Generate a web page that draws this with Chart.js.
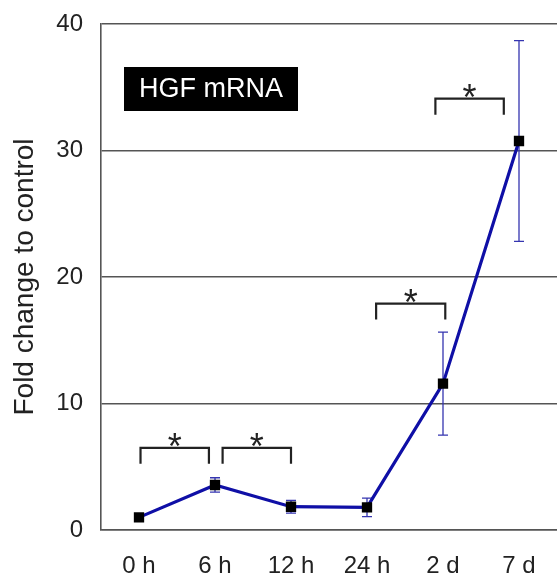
<!DOCTYPE html>
<html>
<head>
<meta charset="utf-8">
<script src="https://cdn.jsdelivr.net/npm/chart.js@4.4.1/dist/chart.umd.min.js"></script>
<style>
  html, body { margin: 0; padding: 0; background: #fff; }
  #wrap { width: 557px; height: 581px; }
</style>
</head>
<body>
<div id="wrap"><canvas id="hgfChart" width="557" height="581"></canvas></div>
<script>
// values
const timeLabels = ["0 h", "6 h", "12 h", "24 h", "2 d", "7 d"];
const foldChange = [1.0, 3.56, 1.84, 1.79, 11.57, 30.75];
const errorSd = [0, 0.57, 0.5, 0.73, 4.07, 7.93];
const yTicks = [0, 10, 20, 30, 40];

// significance brackets (x in category index units, y in fold change)
const bracketFrom = [0.02, 1.1, 3.12, 3.9];
const bracketTo = [0.92, 2.0, 4.03, 4.8];
const bracketLevel = [6.5, 6.5, 17.9, 34.1];

const FONT = "'Liberation Sans', Arial, sans-serif";

const errorBars = {
    id: "errorBars",
    beforeDatasetsDraw(chart) {
        const { ctx, scales } = chart;
        ctx.save();
        ctx.strokeStyle = "#3535b0";
        ctx.lineWidth = 1.3;
        foldChange.forEach((v, i) => {
            if (!errorSd[i]) return;
            const x = scales.x.getPixelForValue(i);
            const top = scales.y.getPixelForValue(v + errorSd[i]);
            const bot = scales.y.getPixelForValue(v - errorSd[i]);
            ctx.beginPath();
            ctx.moveTo(x, top);
            ctx.lineTo(x, bot);
            ctx.moveTo(x - 5, top);
            ctx.lineTo(x + 5, top);
            ctx.moveTo(x - 5, bot);
            ctx.lineTo(x + 5, bot);
            ctx.stroke();
        });
        ctx.restore();
    },
};

const annotations = {
    id: "annotations",
    afterDatasetsDraw(chart) {
        const { ctx, scales, chartArea } = chart;
        ctx.save();
        // brackets with asterisks
        ctx.strokeStyle = "#222";
        ctx.lineWidth = 2.2;
        ctx.fillStyle = "#222";
        ctx.font = "36px " + FONT;
        ctx.textAlign = "center";
        ctx.textBaseline = "alphabetic";
        bracketLevel.forEach((lvl, i) => {
            const x1 = scales.x.getPixelForValue(bracketFrom[i]);
            const x2 = scales.x.getPixelForValue(bracketTo[i]);
            const y = scales.y.getPixelForValue(lvl);
            ctx.beginPath();
            ctx.moveTo(x1, y + 16);
            ctx.lineTo(x1, y);
            ctx.lineTo(x2, y);
            ctx.lineTo(x2, y + 16);
            ctx.stroke();
            ctx.fillText("*", (x1 + x2) / 2, y + 11);
        });

        // black label box
        const bx = chartArea.left + 23;
        const by = chartArea.top + 43;
        ctx.fillStyle = "#000";
        ctx.fillRect(bx, by, 174, 44);
        ctx.fillStyle = "#fff";
        ctx.font = "27px " + FONT;
        ctx.textBaseline = "middle";
        ctx.fillText("HGF mRNA", bx + 87, by + 23);
        ctx.restore();
    },
};

new Chart(document.getElementById("hgfChart").getContext("2d"), {
    type: "line",
    data: {
        labels: timeLabels,
        datasets: [
            {
                label: "HGF mRNA",
                data: foldChange,
                borderColor: "#0f0fa6",
                borderWidth: 3.2,
                pointStyle: "rect",
                pointRadius: 7.3,
                pointBackgroundColor: "#000",
                pointBorderColor: "#000",
                pointBorderWidth: 0,
                tension: 0,
            },
        ],
    },
    options: {
        responsive: false,
        animation: false,
        layout: { autoPadding: false, padding: { top: 24, right: -3, left: 0, bottom: 0 } },
        plugins: {
            legend: { display: false },
            tooltip: { enabled: false },
        },
        scales: {
            x: {
                type: "category",
                offset: true,
                grid: { display: false, drawTicks: false },
                border: { display: true, color: "#555", width: 1.6 },
                ticks: {
                    color: "#222",
                    padding: 22,
                    font: { family: FONT, size: 24 },
                    maxRotation: 0,
                    autoSkip: false,
                },
                afterFit(scale) {
                    scale.height = 51;
                    scale.paddingLeft = 0;
                    scale.paddingRight = 0;
                },
            },
            y: {
                min: 0,
                max: 40,
                afterBuildTicks(scale) {
                    scale.ticks = yTicks.map((v) => ({ value: v }));
                },
                grid: { color: "#555", lineWidth: 1.6, drawTicks: false },
                border: { display: true, color: "#555", width: 1.6 },
                ticks: {
                    color: "#222",
                    padding: 18,
                    font: { family: FONT, size: 24 },
                },
                title: {
                    display: true,
                    text: "Fold change to control",
                    color: "#222",
                    font: { family: FONT, size: 28 },
                    padding: { top: 8, bottom: 0 },
                },
                afterFit(scale) {
                    scale.width = 101;
                    scale.paddingTop = 0;
                    scale.paddingBottom = 0;
                },
            },
        },
    },
    plugins: [errorBars, annotations],
});
</script>
</body>
</html>
